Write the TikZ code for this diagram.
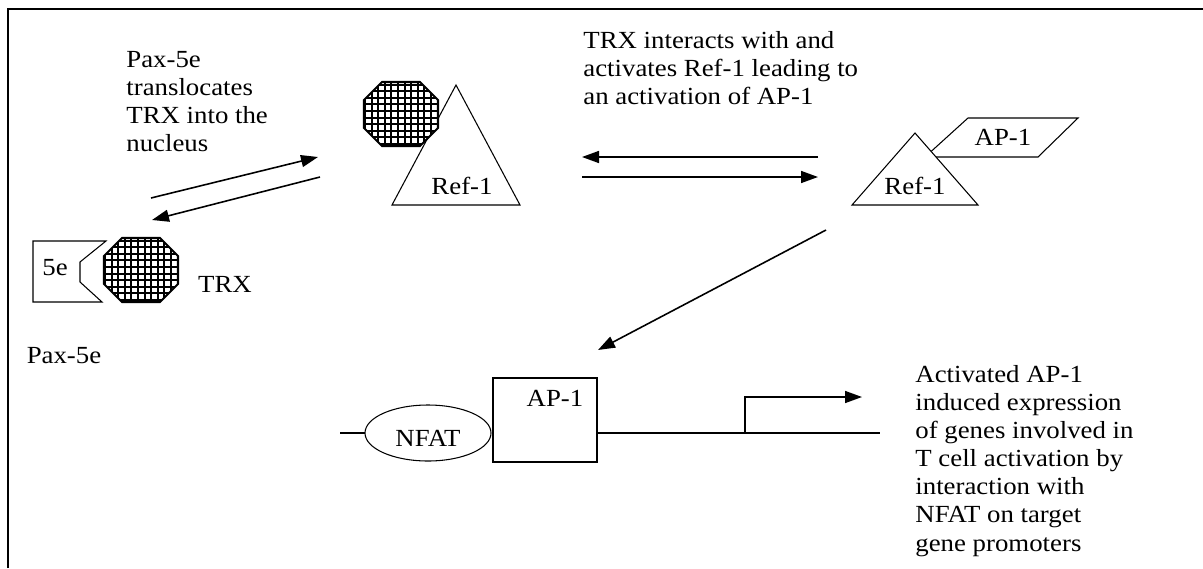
\documentclass[tikz,border=0pt]{standalone}
\usepackage{fontspec}
\setmainfont{Liberation Serif}
\usetikzlibrary{arrows.meta}

\tikzset{
  trxball/.pic={
    \path[fill=white] (-37,-14) -- (-19,-32) -- (19,-32) -- (37,-14) -- (37,14) -- (19,32) -- (-19,32) -- (-37,14) -- cycle;
    \begin{scope}
      \clip (-37,-14) -- (-19,-32) -- (19,-32) -- (37,-14) -- (37,14) -- (19,32) -- (-19,32) -- (-37,14) -- cycle;
      \foreach \g in {-36,-29.4,...,37}
        \draw[line width=1.1pt] (\g,-34) -- (\g,34) (-38,\g) -- (38,\g);
    \end{scope}
    \draw[line width=1.2pt] (-37,-14) -- (-19,-32) -- (19,-32) -- (37,-14) -- (37,14) -- (19,32) -- (-19,32) -- (-37,14) -- cycle;
  }
}

\begin{document}
\begin{tikzpicture}[x=0.02cm, y=-0.02cm,
    > = {Triangle[length=0.34cm,width=0.24cm]},
    txt/.style = {font=\fontsize{14}{16}\selectfont, xscale=1.09, inner sep=0pt},
    arr/.style = {->, line width=0.9pt},
    shape line/.style = {line width=0.6pt}]
  \useasboundingbox (0,0) rectangle (1203,568);
  % frame
  \draw[line width=1.4pt] (8,568) -- (8,9) -- (1203,9);

  % texts
  \node[txt, anchor=north west, align=left] (transText) at (126,51)
    {Pax-5e\\translocates\\TRX into the\\nucleus};
  \node[txt, anchor=north west, align=left] (refText) at (583,31)
    {TRX interacts with and\\activates Ref-1 leading to\\an activation of AP-1};
  \node[txt, anchor=north west, align=left] (expText) at (915,365)
    {Activated AP-1\\induced expression\\of genes involved in\\T cell activation by\\interaction with\\NFAT on target\\gene promoters};

  % Pax-5e with TRX
  \draw[shape line, fill=white] (33,241) coordinate (paxTL) -- (106,241) -- (80,262) -- (80,282)
    -- (102,302) -- (33,302) -- cycle;
  \node[txt] (paxIn) at (55,268) {5e};
  \pic (trxL) at (141,270) {trxball};
  \node[txt] (trxLab) at (225,284) {TRX};
  \node[txt] (paxLab) at (64,356) {Pax-5e};

  % Ref-1 with TRX
  \draw[shape line] (456,85) coordinate (refTop) -- (520,205) -- (392,205) -- cycle;
  \node[txt] (refA) at (462,186) {Ref-1};
  \pic (trxR) at (401,114) {trxball};

  % Ref-1 with AP-1
  \draw[shape line, fill=white] (925,157) -- (968,118) -- (1078,118) -- (1038,157) -- cycle;
  \node[txt] (apTop) at (1003,137) {AP-1};
  \draw[shape line, fill=white] (915,133) coordinate (refTopB) -- (978,205) -- (852,205) -- cycle;
  \node[txt] (refB) at (915,186) {Ref-1};

  % arrows
  \coordinate (a1) at (151,198);  \coordinate (a2) at (318,157);
  \coordinate (b1) at (320,177);  \coordinate (b2) at (152,220);
  \coordinate (c1) at (818,157);  \coordinate (c2) at (582,157);
  \coordinate (d1) at (582,177);  \coordinate (d2) at (818,177);
  \coordinate (e1) at (826,230);  \coordinate (e2) at (598,350);
  \draw[arr] (a1) -- (a2);
  \draw[arr] (b1) -- (b2);
  \draw[arr] (c1) -- (c2);
  \draw[arr] (d1) -- (d2);
  \draw[arr] (e1) -- (e2);

  % promoter
  \draw[shape line] (340,433) -- (366,433);
  \draw[shape line] (597,433) -- (880,433);
  \draw[shape line, fill=white] (493,378) rectangle (597,462);
  \node[txt] (apBox) at (555,398) {AP-1};
  \draw[shape line, fill=white] (428,433) ellipse [x radius=63, y radius=28];
  \node[txt] (nfat) at (428,438) {NFAT};
  \coordinate (p1) at (745,433);  \coordinate (p2) at (862,397);
  \draw[arr] (p1) |- (p2);
\end{tikzpicture}
\end{document}
